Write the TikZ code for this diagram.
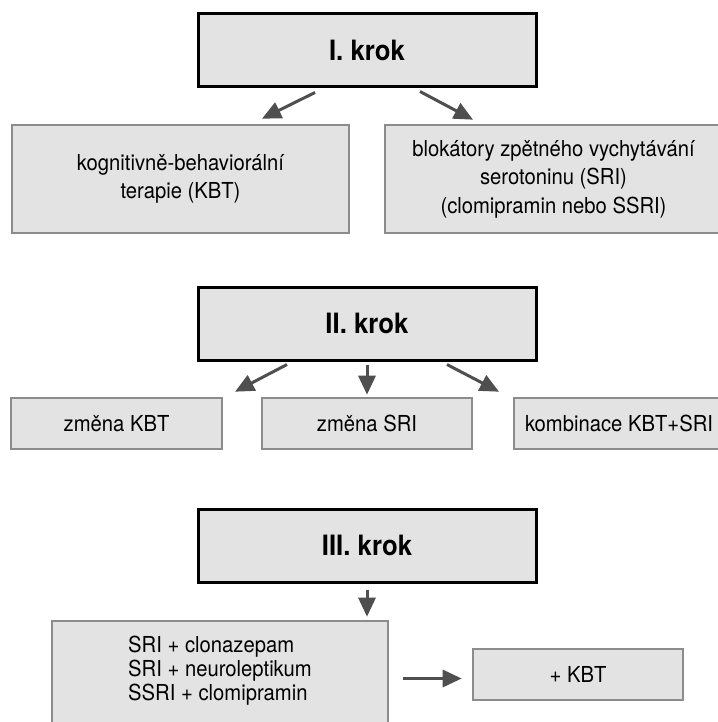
\documentclass[tikz,border=0pt]{standalone}
\usepackage{fontspec}
\setmainfont{TeX Gyre Heros}[FakeStretch=0.92]
\usetikzlibrary{arrows.meta,calc}
\definecolor{boxfill}{HTML}{E3E3E3}
\definecolor{boxgray}{HTML}{8C8C8C}
\definecolor{arrgray}{HTML}{4F4F4F}
\tikzset{
  stepbox/.style={draw=black, line width=3pt, fill=boxfill, inner sep=0pt,
    minimum width=338pt, minimum height=73pt,
    font=\fontsize{28}{32}\selectfont\bfseries},
  optbox/.style={draw=boxgray, line width=2.6pt, fill=boxfill, inner sep=0pt,
    align=center, font=\fontsize{22}{28.5}\selectfont},
  arr/.style={draw=arrgray, line width=3pt, -{Triangle[length=19pt,width=17pt]}, arrgray},
}
\begin{document}
\begin{tikzpicture}[x=1pt,y=-1pt]
\useasboundingbox (0,0) rectangle (717,722);
\fill[white] (0,0) rectangle (717,722);
% step I
\node[stepbox] (s1) at (367,50.5) {I. krok};
\node[optbox, minimum width=337pt, minimum height=108pt] (kbt) at (180.5,179)
  {kognitivně-behaviorální\\terapie (KBT)};
\node[optbox, minimum width=337pt, minimum height=108pt] (sri) at (553.5,179)
  {blokátory zpětného vychytávání\\serotoninu (SRI)\\(clomipramin nebo SSRI)};
\draw[arr] ([xshift=-52pt,yshift=-4pt]s1.south) -- ([xshift=81.5pt,yshift=5pt]kbt.north);
\draw[arr] ([xshift=53pt,yshift=-3pt]s1.south) -- ([xshift=-80.5pt,yshift=4pt]sri.north);
% step II
\node[stepbox] (s2) at (367,323.5) {II. krok};
\node[optbox, minimum width=211pt, minimum height=51pt] (z1) at (116.5,423.5) {změna KBT};
\node[optbox, minimum width=210pt, minimum height=51pt] (z2) at (367,423.5) {změna SRI};
\node[optbox, minimum width=210pt, minimum height=51pt] (z3) at (619,423.5) {kombinace KBT+SRI};
\draw[arr] ([xshift=-80pt,yshift=-3pt]s2.south) -- ([xshift=118.5pt,yshift=5pt]z1.north);
\draw[arr, shorten <=3pt, shorten >=2pt] (s2.south) -- (z2.north);
\draw[arr] ([xshift=80pt,yshift=-3pt]s2.south) -- ([xshift=-120pt,yshift=5pt]z3.north);
% step III
\node[stepbox] (s3) at (367,545.5) {III. krok};
\node[optbox, minimum width=336pt, minimum height=109pt] (comb) at (220,675.5) {};
\node[align=left, inner sep=0pt, font=\fontsize{22}{24}\selectfont] (combtxt) at (220,671)
  {SRI + clonazepam\\SRI + neuroleptikum\\SSRI + clomipramin};
\node[optbox, minimum width=210pt, minimum height=51pt] (plus) at (578,674.5) {+ KBT};
\draw[arr, shorten <=6pt, shorten >=3pt] (s3.south) -- (s3.south |- comb.north);
\coordinate (pw) at ([yshift=-4pt]plus.west);
\draw[arr, shorten <=14pt, shorten >=10pt] (comb.east |- pw) -- (pw);
\end{tikzpicture}
\end{document}
